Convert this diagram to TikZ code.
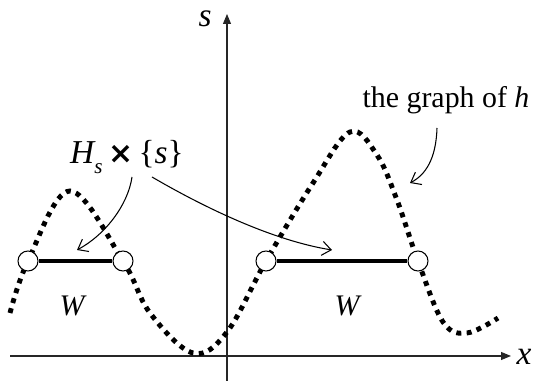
\documentclass[tikz,border=0pt]{standalone}
\usepackage{fontspec}
\setmainfont{Liberation Serif}
\newfontfamily\symfont{DejaVu Sans}
\usetikzlibrary{arrows.meta}

\begin{document}
\begin{tikzpicture}[x=0.02cm,y=-0.02cm,
  font=\fontsize{17}{20}\selectfont,
  axis/.style={line width=0.6pt,black!85,-{Triangle[length=2mm,width=1.6mm]}},
  graphline/.style={line width=2.8pt,dash pattern=on 2.8pt off 3.1pt},
  seg/.style={line width=2.8pt},
  endpt/.style={circle,draw,line width=0.6pt,fill=white,minimum size=0.4cm,inner sep=0pt},
  pointer/.style={line width=0.6pt,-{Straight Barb[length=1.8mm,width=2.8mm]}}]
\useasboundingbox (0,0) rectangle (535,381);
\coordinate (xl) at (10,356);
\coordinate (xr) at (511,356);
\coordinate (sb) at (227,381);
\coordinate (st) at (227,14);
\draw[axis] (xl) -- (xr);
\draw[axis] (sb) -- (st);
\node (xlab) at (524,357) {\fontsize{19}{20}\selectfont\itshape x};
\node (slab) at (205,19) {\fontsize{19}{20}\selectfont\itshape s};
\draw[graphline] plot[smooth,tension=0.6] coordinates {
  (10,313) (28,261) (70,191) (123,261) (150,313) (193,353) (227,332)
  (266,261) (313,183) (350,132) (377,155) (397,200) (418,261)
  (443,322) (467,333) (498,318)};
\node[endpt] (a1) at (28,261) {};
\node[endpt] (a2) at (123,261) {};
\node[endpt] (b1) at (266,261) {};
\node[endpt] (b2) at (418,261) {};
\draw[seg] (a1) -- (a2);
\draw[seg] (b1) -- (b2);
\node (wa) at (72,306) {\itshape W};
\node (wb) at (347,306) {\itshape W};
\node (hs) at (127,157) {\fontsize{19}{20}\selectfont{\itshape H}\raisebox{-0.7ex}{\fontsize{12}{12}\selectfont\itshape s}\,{\symfont\bfseries\fontsize{17}{20}\selectfont ×}\,\{{\itshape s}\}};
\node (gh) at (446,100) {the graph of {\itshape h}};
\coordinate (hs1) at (132,177);
\coordinate (hs2) at (152,177);
\coordinate (gh1) at (437,128);
\coordinate (ta) at (77,250);
\coordinate (tb) at (332,250);
\coordinate (tg) at (410,183);
\draw[pointer] (hs1) .. controls (128,205) and (105,235) .. (ta);
\draw[pointer] (hs2) .. controls (200,205) and (270,240) .. (tb);
\draw[pointer] (gh1) .. controls (436,160) and (425,175) .. (tg);
\end{tikzpicture}
\end{document}
